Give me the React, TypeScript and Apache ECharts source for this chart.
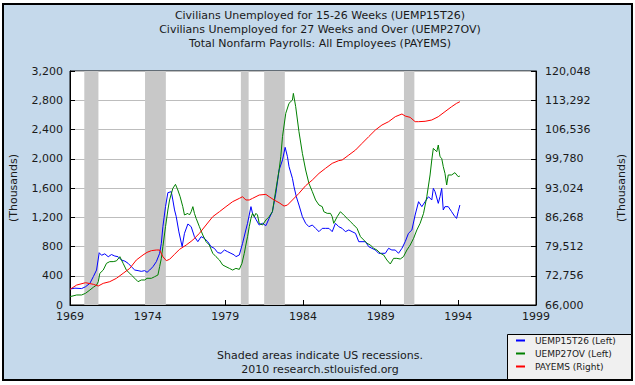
import React, { useEffect, useRef } from "react";
import * as echarts from "echarts";

const titleLines = [
  "Civilians Unemployed for 15-26 Weeks (UEMP15T26)",
  "Civilians Unemployed for 27 Weeks and Over (UEMP27OV)",
  "Total Nonfarm Payrolls: All Employees (PAYEMS)",
];
const footLines = ["Shaded areas indicate US recessions.", "2010 research.stlouisfed.org"];

const xTicks = [1969, 1974, 1979, 1984, 1989, 1994, 1999];
const rightTicks = [66000, 72756, 79512, 86268, 93024, 99780, 106536, 113292, 120048];

const recessions: [number, number][] = [
  [1969.92, 1970.83],
  [1973.83, 1975.17],
  [1980.0, 1980.5],
  [1981.5, 1982.83],
  [1990.5, 1991.17],
];

const uemp15t26: [number, number][] = [
  [1969.0, 219], [1969.32, 230], [1969.75, 225], [1970.0, 250], [1970.28, 296], [1970.5, 387], [1970.71, 478], [1970.88, 715],
  [1971.03, 680], [1971.24, 700], [1971.46, 660], [1971.67, 690], [1971.88, 670], [1972.1, 660], [1972.31, 615], [1972.53, 600],
  [1972.74, 570], [1972.95, 524], [1973.17, 478], [1973.38, 470], [1973.59, 460], [1973.81, 470], [1973.96, 447], [1974.13, 478],
  [1974.34, 524], [1974.56, 593], [1974.77, 706], [1974.88, 843], [1974.98, 1071], [1975.15, 1345], [1975.3, 1536], [1975.52, 1550],
  [1975.62, 1436], [1975.73, 1300], [1975.84, 1208], [1976.01, 1000], [1976.22, 798], [1976.37, 980], [1976.59, 1108], [1976.8, 1071],
  [1977.01, 934], [1977.23, 866], [1977.44, 934], [1977.65, 912], [1977.87, 866], [1978.08, 798], [1978.29, 775], [1978.51, 716],
  [1978.72, 707], [1978.94, 752], [1979.15, 729], [1979.36, 707], [1979.58, 684], [1979.68, 661], [1979.9, 684], [1980.11, 843],
  [1980.32, 1026], [1980.43, 1117], [1980.65, 1345], [1980.75, 1253], [1980.97, 1171], [1981.18, 1094], [1981.39, 1117], [1981.61, 1085],
  [1981.82, 1185], [1982.03, 1276], [1982.25, 1527], [1982.46, 1846], [1982.68, 1983], [1982.85, 2156], [1983.0, 2028], [1983.1, 1892],
  [1983.32, 1732], [1983.42, 1618], [1983.57, 1481], [1983.74, 1367], [1983.96, 1208], [1984.17, 1117], [1984.38, 1071], [1984.6, 1094],
  [1984.81, 1048], [1985.03, 1003], [1985.24, 1048], [1985.45, 1048], [1985.67, 1048], [1985.88, 1003], [1986.09, 1117], [1986.3, 1071],
  [1986.52, 1048], [1986.73, 1003], [1986.95, 1026], [1987.16, 1003], [1987.38, 980], [1987.59, 866], [1987.8, 866], [1988.02, 866],
  [1988.23, 798], [1988.44, 775], [1988.66, 752], [1988.87, 707], [1989.08, 707], [1989.3, 707], [1989.51, 775], [1989.72, 752],
  [1989.94, 752], [1990.15, 707], [1990.37, 775], [1990.58, 866], [1990.79, 980], [1991.01, 1026], [1991.22, 1231], [1991.44, 1413],
  [1991.65, 1345], [1991.86, 1413], [1992.08, 1481], [1992.29, 1436], [1992.39, 1595], [1992.5, 1550], [1992.71, 1390], [1992.82, 1481],
  [1992.93, 1595], [1993.03, 1299], [1993.14, 1345], [1993.35, 1345], [1993.57, 1276], [1993.78, 1208], [1993.89, 1185], [1993.99, 1276],
  [1994.1, 1367],
];

const uemp27ov: [number, number][] = [
  [1969.0, 114], [1969.43, 137], [1969.75, 137], [1970.0, 160], [1970.28, 205], [1970.5, 242], [1970.71, 273], [1970.82, 319],
  [1970.92, 433], [1971.14, 478], [1971.35, 570], [1971.56, 593], [1971.78, 593], [1971.99, 603], [1972.21, 661], [1972.42, 570],
  [1972.63, 478], [1972.95, 410], [1973.17, 365], [1973.38, 319], [1973.59, 342], [1973.81, 342], [1973.96, 365], [1974.24, 365],
  [1974.45, 387], [1974.66, 410], [1974.77, 524], [1974.88, 638], [1974.98, 798], [1975.15, 1071], [1975.3, 1299], [1975.41, 1436],
  [1975.62, 1595], [1975.79, 1650], [1975.94, 1573], [1976.09, 1481], [1976.26, 1345], [1976.37, 1231], [1976.59, 1253], [1976.69, 1231],
  [1976.8, 1276], [1976.91, 1345], [1977.01, 1253], [1977.12, 1185], [1977.33, 1071], [1977.55, 957], [1977.76, 866], [1977.97, 820],
  [1978.19, 707], [1978.4, 661], [1978.62, 615], [1978.83, 547], [1979.04, 524], [1979.26, 501], [1979.47, 478], [1979.68, 501],
  [1979.9, 487], [1980.07, 570], [1980.22, 707], [1980.32, 820], [1980.43, 934], [1980.54, 1071], [1980.65, 1185], [1980.75, 1253],
  [1980.86, 1208], [1980.97, 1253], [1981.07, 1231], [1981.18, 1117], [1981.39, 1094], [1981.61, 1162], [1981.82, 1208], [1982.03, 1276],
  [1982.25, 1573], [1982.46, 1846], [1982.57, 2028], [1982.68, 2302], [1982.89, 2621], [1983.1, 2758], [1983.32, 2803], [1983.38, 2894],
  [1983.53, 2712], [1983.74, 2370], [1983.96, 2074], [1984.17, 1846], [1984.38, 1664], [1984.6, 1550], [1984.81, 1436], [1985.03, 1367],
  [1985.24, 1345], [1985.34, 1276], [1985.56, 1253], [1985.77, 1253], [1985.88, 1208], [1985.98, 1117], [1986.2, 1208], [1986.41, 1276],
  [1986.62, 1231], [1986.84, 1185], [1987.05, 1140], [1987.27, 1094], [1987.48, 1048], [1987.7, 934], [1987.91, 889], [1988.12, 843],
  [1988.34, 820], [1988.55, 775], [1988.76, 752], [1988.98, 707], [1989.19, 684], [1989.4, 615], [1989.62, 561], [1989.83, 638],
  [1990.04, 638], [1990.26, 629], [1990.47, 661], [1990.69, 752], [1990.9, 820], [1991.12, 912], [1991.33, 1026], [1991.54, 1117],
  [1991.76, 1253], [1991.97, 1481], [1992.18, 1778], [1992.29, 1983], [1992.39, 2142], [1992.5, 2119], [1992.61, 2096], [1992.71, 2188],
  [1992.82, 2028], [1992.93, 2005], [1993.03, 1892], [1993.14, 1800], [1993.25, 1641], [1993.35, 1778], [1993.57, 1778], [1993.78, 1810],
  [1993.99, 1755], [1994.1, 1764],
];

const payems: [number, number][] = [
  [1969.0, 69614], [1969.43, 70611], [1970.0, 71151], [1970.5, 70780], [1970.82, 70391], [1971.14, 70999], [1971.56, 71388], [1971.99, 72165],
  [1972.42, 73313], [1972.85, 74462], [1973.27, 76387], [1973.7, 77553], [1973.96, 78161], [1974.24, 78549], [1974.56, 78701], [1974.77, 78701],
  [1974.98, 77164], [1975.2, 76235], [1975.41, 76556], [1975.73, 77705], [1976.05, 78853], [1976.48, 79850], [1976.91, 81015], [1977.33, 82552],
  [1977.76, 84478], [1978.19, 86403], [1978.62, 87552], [1979.04, 88717], [1979.47, 89866], [1979.9, 90626], [1980.11, 91014], [1980.32, 90254],
  [1980.54, 90254], [1980.75, 90626], [1981.18, 91403], [1981.61, 91555], [1981.82, 91014], [1982.14, 90254], [1982.46, 89629], [1982.78, 88852],
  [1983.0, 89089], [1983.32, 90254], [1983.74, 91790], [1984.17, 93560], [1984.6, 94865], [1985.03, 96402], [1985.45, 97568], [1985.88, 98716],
  [1986.3, 99341], [1986.52, 99493], [1986.95, 100641], [1987.38, 101790], [1987.8, 103327], [1988.23, 104881], [1988.66, 106418], [1989.08, 107566],
  [1989.51, 108343], [1989.94, 109492], [1990.37, 110117], [1990.58, 109644], [1990.9, 109340], [1991.22, 108343], [1991.43, 108343], [1991.86, 108428],
  [1992.29, 108732], [1992.71, 109492], [1993.14, 110657], [1993.57, 111806], [1993.89, 112583], [1994.1, 112954],
];

const seriesNames = ["UEMP15T26 (Left)", "UEMP27OV (Left)", "PAYEMS (Right)"];

const FONT = "DejaVu Sans";
const TXT = "#1a1a1a";

export default function App() {
  const ref = useRef<HTMLDivElement>(null);
  useEffect(() => {
    const chart = echarts.init(ref.current!, null, { renderer: "svg" });
    const fmt = (v: number) => Math.round(v).toLocaleString("en-US");
    chart.setOption({
      animation: false,
      textStyle: { fontFamily: FONT },
      grid: {
        left: 70,
        top: 71,
        right: 98,
        bottom: 80,
        show: true,
        backgroundColor: "#ffffff",
        borderColor: "#000000",
        borderWidth: 1,
      },
      graphic: [
        {
          type: "rect",
          shape: { x: 507.5, y: 334.5, width: 124, height: 45 },
          style: { fill: "#F0F0F0", stroke: "#000000", lineWidth: 1 },
        },
        ...titleLines.map((t, i) => ({
          type: "text",
          x: 320,
          y: 15 + i * 14,
          style: { text: t, fill: TXT, font: `11px "${FONT}"`, textAlign: "center", textVerticalAlign: "middle" },
        })),
        ...footLines.map((t, i) => ({
          type: "text",
          x: 320,
          y: 355 + i * 14,
          style: { text: t, fill: TXT, font: `11px "${FONT}"`, textAlign: "center", textVerticalAlign: "middle" },
        })),
      ],
      legend: {
        data: seriesNames,
        orient: "vertical",
        left: 516,
        top: 335,
        padding: 0,
        itemGap: 2,
        itemWidth: 9,
        itemHeight: 2,
        icon: "rect",
        textStyle: { fontFamily: FONT, fontSize: 9, color: TXT, padding: [0, 0, 0, 5], lineHeight: 11, height: 11 },
      },
      xAxis: {
        type: "value",
        min: 1969,
        max: 1999,
        axisLine: { lineStyle: { color: "#000", width: 1 } },
        axisTick: { inside: true, length: 5, lineStyle: { color: "#000" }, customValues: xTicks },
        axisLabel: { customValues: xTicks, formatter: (v: number) => String(v), color: TXT, fontSize: 11, fontFamily: FONT, margin: 6 },
        splitLine: { show: false },
      },
      yAxis: [
        {
          type: "value",
          min: 0,
          max: 3200,
          interval: 400,
          name: "(Thousands)",
          nameLocation: "middle",
          nameRotate: 90,
          nameGap: 51,
          nameTextStyle: { color: TXT, fontSize: 11, fontFamily: FONT },
          axisLine: { show: true, lineStyle: { color: "#000" } },
          axisTick: { show: true, inside: true, length: 5, lineStyle: { color: "#000" } },
          axisLabel: { formatter: fmt, color: TXT, fontSize: 11, fontFamily: FONT, margin: 7 },
          splitLine: { show: true, lineStyle: { color: "#BDBDBD", width: 1 } },
        },
        {
          type: "value",
          min: 66000,
          max: 120048,
          position: "right",
          name: "(Thousands)",
          nameLocation: "middle",
          nameRotate: 90,
          nameGap: 80,
          nameTextStyle: { color: TXT, fontSize: 11, fontFamily: FONT },
          axisLine: { show: true, lineStyle: { color: "#000" } },
          axisTick: { show: true, inside: true, length: 5, lineStyle: { color: "#000" }, customValues: rightTicks },
          axisLabel: { customValues: rightTicks, formatter: fmt, color: TXT, fontSize: 11, fontFamily: FONT, margin: 9 },
          splitLine: { show: false },
        },
      ],
      series: [
        {
          name: "recessions",
          type: "line",
          data: [],
          silent: true,
          z: 1,
          markArea: {
            silent: true,
            itemStyle: { color: "#C8C8C8" },
            data: recessions.map(([a, b]) => [{ xAxis: a }, { xAxis: b }]),
          },
        },
        {
          name: seriesNames[0],
          type: "line",
          data: uemp15t26,
          showSymbol: false,
          z: 3,
          itemStyle: { color: "#0000FF" },
          lineStyle: { color: "#0000FF", width: 1 },
        },
        {
          name: seriesNames[1],
          type: "line",
          data: uemp27ov,
          showSymbol: false,
          z: 3,
          itemStyle: { color: "#008000" },
          lineStyle: { color: "#008000", width: 1 },
        },
        {
          name: seriesNames[2],
          type: "line",
          yAxisIndex: 1,
          data: payems,
          showSymbol: false,
          z: 3,
          itemStyle: { color: "#FF0000" },
          lineStyle: { color: "#FF0000", width: 1 },
        },
      ],
    });
    return () => chart.dispose();
  }, []);
  return (
    <div style={{ position: "fixed", left: 0, top: 0, width: 635, height: 385, background: "#ffffff" }}>
      <div
        style={{
          position: "absolute",
          left: 2,
          top: 3,
          width: 631,
          height: 378,
          boxSizing: "border-box",
          border: "2px solid #000",
          background: "#C5D9EB",
        }}
      />
      <div ref={ref} style={{ position: "absolute", left: 0, top: 0, width: 635, height: 385 }} />
    </div>
  );
}
